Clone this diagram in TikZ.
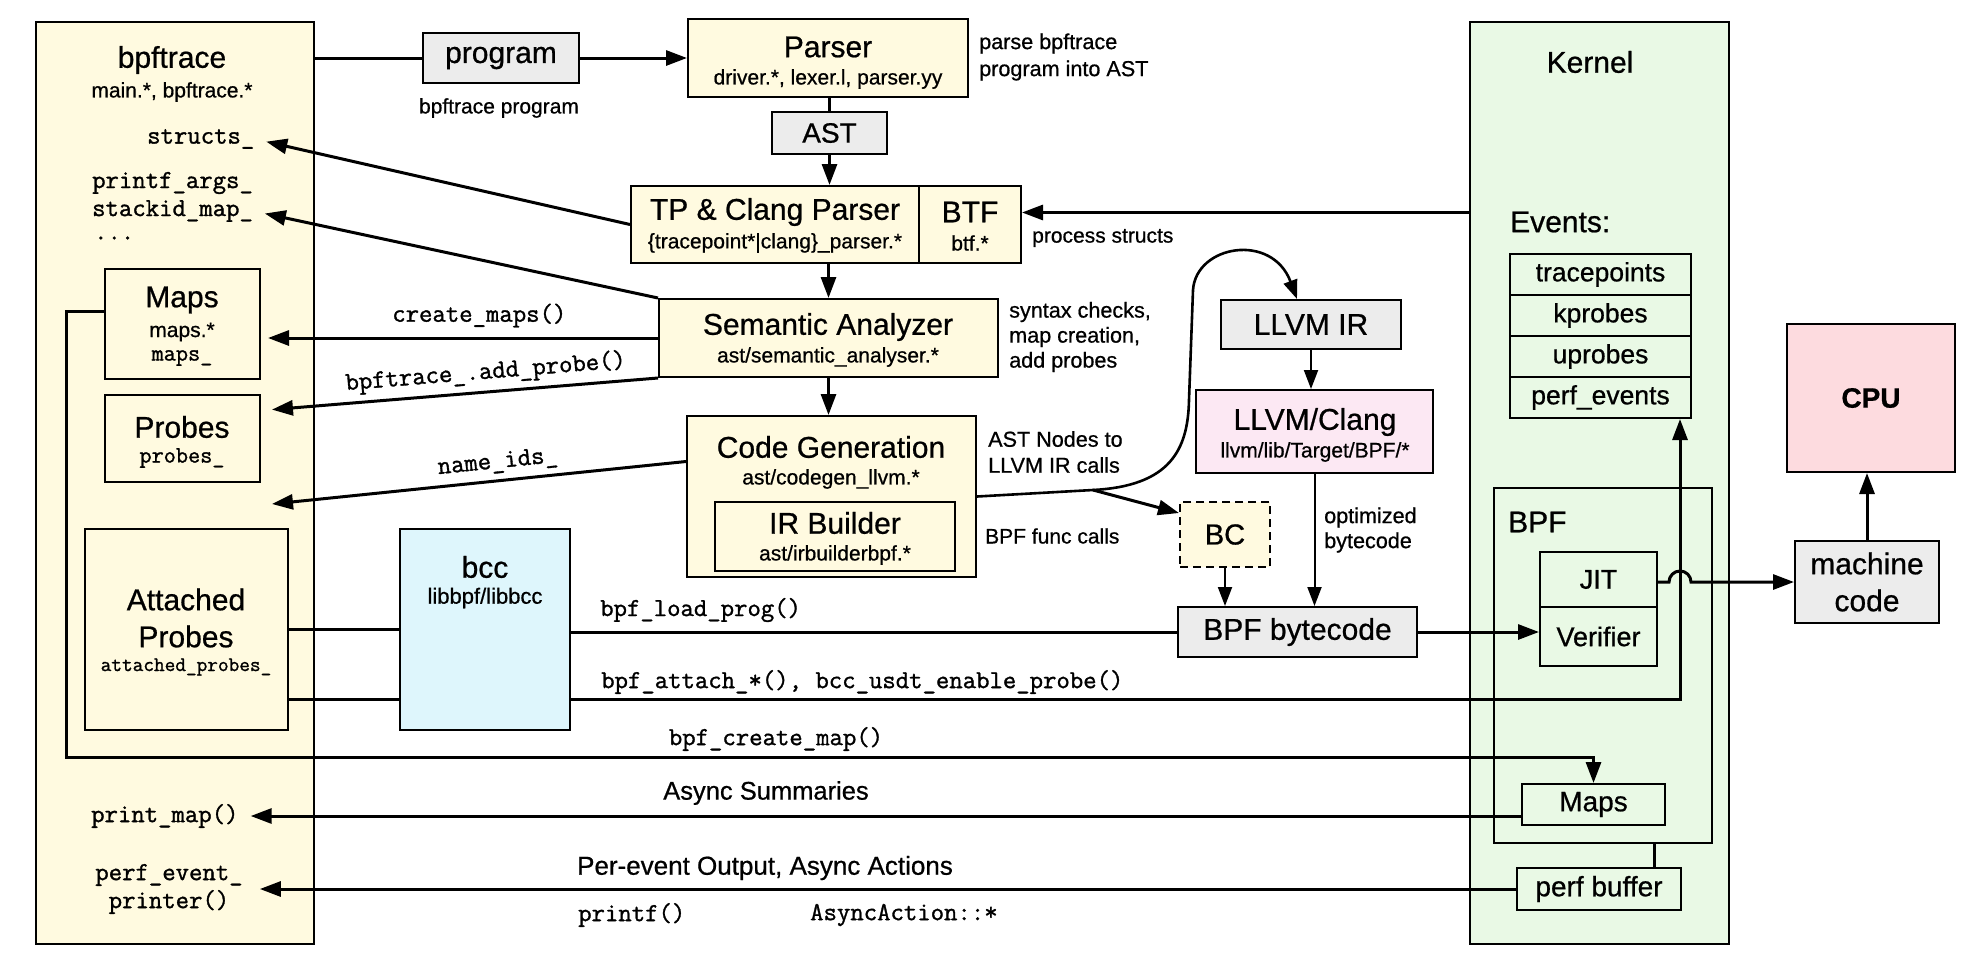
\documentclass[tikz,border=0pt]{standalone}
\usepackage{fontspec}
\setmainfont{Liberation Sans}[FakeBold=0.7]
\setmonofont{Latin Modern Mono}[FakeBold=1.2]
\usepackage{tikz}
\usetikzlibrary{positioning, calc}
\usetikzlibrary{arrows.meta}
\usetikzlibrary{shapes,arrows}

\definecolor{yel}{RGB}{255,250,224}
\definecolor{gry}{RGB}{236,236,236}
\definecolor{cyn}{RGB}{222,246,252}
\definecolor{grn}{RGB}{233,249,229}
\definecolor{pnk}{RGB}{252,232,243}
\definecolor{cpuc}{RGB}{253,219,223}

\newcommand{\TitleFont}{\fontsize{30}{37}\selectfont}
\newcommand{\SubFont}{\fontsize{21}{26}\selectfont}
\newcommand{\LblFont}{\fontsize{26}{30}\selectfont}
\newcommand{\CodeFont}{\fontsize{26}{28}\selectfont\ttfamily}
\newcommand{\SmCodeFont}{\fontsize{23.6}{28}\selectfont\ttfamily}

\begin{document}
\begin{tikzpicture}[x=1pt, y=-1pt]
	\tikzstyle{box-node}=[draw=black, line width=2pt, inner sep=0pt, align=center]
	\tikzstyle{title-text}=[inner sep=0pt, font=\TitleFont, align=center]
	\tikzstyle{sub-text}=[inner sep=0pt, font=\SubFont, align=center]
	\tikzstyle{note-text}=[inner sep=0pt, font=\SubFont, align=left, anchor=west]
	\tikzstyle{code-text}=[inner sep=0pt, font=\CodeFont, align=center]
	\tikzstyle{main-arrow}=[line width=3pt, -{Triangle[length=21pt,width=15pt]}]
	\tikzstyle{thin-arrow}=[line width=2pt, -{Triangle[length=19pt,width=14pt]}]
	\tikzstyle{plain-line}=[line width=3pt]
	\useasboundingbox (0,0) rectangle (1968,956);

	% bpftrace side
	\node[box-node, fill=yel, minimum width=278pt, minimum height=922pt] (bpft) at (175,483) {};
	\node[title-text] (bpft-title) at (172,60) {bpftrace};
	\node[sub-text] (bpft-sub) at (172,92) {main.*, bpftrace.*};
	\node[code-text, anchor=west] (structs) at (147,139) {structs\_};
	\node[code-text, anchor=west] (pargs) at (92,183) {printf\_args\_};
	\node[code-text, anchor=west] (stackid) at (92,211) {stackid\_map\_};
	\node[code-text, anchor=west] (dots) at (94,238) {...};

	\node[box-node, fill=yel, minimum width=155pt, minimum height=110pt] (maps) at (182.5,324) {};
	\node[title-text] (maps-title) at (182,300) {Maps};
	\node[sub-text] (maps-sub) at (182,332) {maps.*};
	\node[code-text, font=\SmCodeFont] (maps-var) at (182,358) {maps\_};
	\node[box-node, fill=yel, minimum width=155pt, minimum height=87pt] (probes) at (182.5,438.5) {};
	\node[title-text] (probes-title) at (182,427) {Probes};
	\node[code-text, font=\SmCodeFont] (probes-var) at (182,458) {probes\_};
	\node[box-node, fill=yel, minimum width=203pt, minimum height=201pt] (att) at (186.5,629.5) {};
	\node[title-text] (att-title) at (186,618) {Attached\\Probes};
	\node[code-text, font=\fontsize{20.7}{24}\selectfont\ttfamily] (att-var) at (186,667) {attached\_probes\_};
	\node[code-text, anchor=west] (pmap) at (91,816) {print\_map()};
	\node[code-text] (pevt) at (169,889) {perf\_event\_\\printer()};

	% bcc
	\node[box-node, fill=cyn, minimum width=170pt, minimum height=201pt] (bcc) at (485,629.5) {};
	\node[title-text] (bcc-title) at (485,567) {bcc};
	\node[sub-text, font=\fontsize{22}{26}\selectfont] (bcc-sub) at (485,598) {libbpf/libbcc};

	% compiler chain
	\node[box-node, fill=gry, minimum width=156pt, minimum height=50pt, font=\TitleFont] (prog) at (501,58) {program};
	\node[sub-text] (prog-sub) at (499,108) {bpftrace program};
	\node[box-node, fill=yel, minimum width=280pt, minimum height=78pt] (parser) at (828,58) {};
	\node[title-text] (parser-title) at (828,47) {Parser};
	\node[sub-text] (parser-sub) at (828,79) {driver.*, lexer.l, parser.yy};
	\node[note-text, font=\fontsize{21.6}{27}\selectfont] (parser-note) at (979,57) {parse bpftrace\\program into AST};
	\node[box-node, fill=gry, minimum width=115pt, minimum height=42pt, font=\fontsize{28}{32}\selectfont] (ast) at (829.5,133) {AST};
	\node[box-node, fill=yel, minimum width=288pt, minimum height=77pt] (tp) at (775,224.5) {};
	\node[title-text] (tp-title) at (775,212) {TP \& Clang Parser};
	\node[sub-text] (tp-sub) at (775,243) {\{tracepoint*|clang\}\_parser.*};
	\node[box-node, fill=yel, minimum width=102pt, minimum height=77pt] (btf) at (970,224.5) {};
	\node[title-text] (btf-title) at (970,212) {BTF};
	\node[sub-text] (btf-sub) at (970,243) {btf.*};
	\node[note-text] (btf-note) at (1032,238) {process structs};
	\node[box-node, fill=yel, minimum width=339pt, minimum height=78pt] (sem) at (828.5,338) {};
	\node[title-text] (sem-title) at (828,327) {Semantic Analyzer};
	\node[sub-text] (sem-sub) at (828,357) {ast/semantic\_analyser.*};
	\node[note-text, font=\fontsize{21.6}{25}\selectfont] (sem-note) at (1009,337) {syntax checks,\\map creation,\\add probes};
	\node[box-node, fill=yel, minimum width=289pt, minimum height=161pt] (cg) at (831.5,496.5) {};
	\node[title-text] (cg-title) at (831,447) {Code Generation};
	\node[sub-text] (cg-sub) at (831,479) {ast/codegen\_llvm.*};
	\node[box-node, fill=yel, minimum width=240pt, minimum height=69pt] (irb) at (835,536.5) {};
	\node[title-text] (irb-title) at (835,523) {IR Builder};
	\node[sub-text] (irb-sub) at (835,555) {ast/irbuilderbpf.*};
	\node[note-text, font=\fontsize{21.6}{26}\selectfont] (cg-note) at (988,452) {AST Nodes to\\LLVM IR calls};
	\node[note-text] (irb-note) at (985,536) {BPF func calls};

	% LLVM
	\node[box-node, fill=gry, minimum width=180pt, minimum height=49pt, font=\TitleFont] (llir) at (1311,324.5) {LLVM IR};
	\node[box-node, fill=pnk, minimum width=237pt, minimum height=83pt] (llvm) at (1314.5,431.5) {};
	\node[title-text] (llvm-title) at (1315,422) {LLVM/Clang};
	\node[sub-text] (llvm-sub) at (1315,452) {llvm/lib/Target/BPF/*};
	\node[box-node, fill=yel, dash pattern=on 8pt off 5pt, minimum width=90pt, minimum height=65pt, font=\fontsize{29}{32}\selectfont] (bc) at (1225,534.5) {BC};
	\node[note-text, font=\fontsize{21.6}{25}\selectfont] (opt-note) at (1324,530) {optimized\\bytecode};
	\node[box-node, fill=gry, minimum width=239pt, minimum height=50pt, font=\TitleFont] (bpfbc) at (1297.5,632) {BPF bytecode};

	% kernel
	\node[box-node, fill=grn, minimum width=259pt, minimum height=922pt] (kern) at (1599.5,483) {};
	\node[title-text] (kern-title) at (1590,62) {Kernel};
	\node[title-text, anchor=west] (ev-title) at (1510,222) {Events:};
	\node[box-node, fill=grn, minimum width=181pt, minimum height=41pt, font=\fontsize{26.5}{30}\selectfont] (ev1) at (1600.5,274.5) {tracepoints};
	\node[box-node, fill=grn, minimum width=181pt, minimum height=41pt, font=\fontsize{26.5}{30}\selectfont] (ev2) at (1600.5,315.5) {kprobes};
	\node[box-node, fill=grn, minimum width=181pt, minimum height=41pt, font=\fontsize{26.5}{30}\selectfont] (ev3) at (1600.5,356.5) {uprobes};
	\node[box-node, fill=grn, minimum width=181pt, minimum height=41pt, font=\fontsize{26.5}{30}\selectfont] (ev4) at (1600.5,397.5) {perf\_events};
	\node[box-node, fill=grn, minimum width=218pt, minimum height=355pt] (bpfk) at (1603,665.5) {};
	\node[title-text, anchor=west] (bpfk-title) at (1508,522) {BPF};
	\node[box-node, fill=grn, minimum width=117pt, minimum height=55pt, font=\fontsize{27}{30}\selectfont] (jit) at (1598.5,579.5) {JIT};
	\node[box-node, fill=grn, minimum width=117pt, minimum height=59pt, font=\fontsize{27}{30}\selectfont] (ver) at (1598.5,636.5) {Verifier};
	\node[box-node, fill=grn, minimum width=143pt, minimum height=41pt, font=\fontsize{28}{30}\selectfont] (kmaps) at (1593.5,804.5) {Maps};
	\node[box-node, fill=grn, minimum width=164pt, minimum height=42pt, font=\fontsize{28}{30}\selectfont] (pbuf) at (1599,889) {perf buffer};

	% hardware
	\node[box-node, fill=cpuc, minimum width=168pt, minimum height=148pt, font=\fontsize{28}{30}\selectfont\bfseries] (cpu) at (1871,398) {CPU};
	\node[box-node, fill=gry, minimum width=144pt, minimum height=82pt, font=\TitleFont] (mc) at (1867,582) {machine\\code};

	% program flow
	\draw[plain-line] (bpft.east |- prog.west) -- (prog.west);
	\draw[main-arrow] (prog.east) -- (parser.west);
	\draw[plain-line] (ast.north |- parser.south) -- (ast.north);
	\draw[main-arrow] (ast.south) -- (ast.south |- tp.north);
	\draw[main-arrow] (tp.south -| sem.north) -- (sem.north);
	\draw[main-arrow] (sem.south) -- (sem.south |- cg.north);
	\draw[main-arrow] ($(kern.west |- btf.east)+(0,-12)$) -- ($(btf.east)+(0,-12)$);

	% back into bpftrace
	\draw[main-arrow, shorten >=12pt] (tp.west) -- (structs.east);
	\draw[main-arrow, shorten >=12pt] (sem.north west) -- (stackid.east);
	\draw[main-arrow, shorten >=7pt] (sem.west) -- (maps.east |- sem.west)
		node[code-text, above=9pt, pos=0.45] {create\_maps()};
	\draw[main-arrow, shorten >=11pt] (sem.south west) -- ($(probes.east)+(0,-28)$)
		node[code-text, sloped, above=6pt, pos=0.43] {bpftrace\_.add\_probe()};
	\coordinate (nameend) at (272,504);
	\draw[main-arrow] ($(cg.west)+(0,-35)$) -- (nameend)
		node[code-text, sloped, above=6pt, pos=0.45] {name\_ids\_};

	% codegen to llvm
	\coordinate (split) at (1093,490);
	\draw[line width=2.6pt, -{Triangle[length=19pt,width=14pt]}] (cg.east) -- (split)
		.. controls (1170,486) and (1188,450) .. (1189,400) -- (1193,290)
		.. controls (1196,245) and (1272,232) .. ($(llir.north)+(-14,0)$);
	\draw[main-arrow] (split) -- ($(bc.north west)+(0,12)$);
	\draw[thin-arrow] (llir.south) -- (llir.south |- llvm.north);
	\draw[thin-arrow] (llvm.south) -- (llvm.south |- bpfbc.north);
	\draw[thin-arrow] (bc.south) -- (bc.south |- bpfbc.north);

	% loading and attaching
	\draw[plain-line] (att.east) -- (bcc.west);
	\draw[plain-line] (bcc.east |- bpfbc.west) -- (bpfbc.west);
	\node[code-text, anchor=west] (load-lbl) at (600,610) {bpf\_load\_prog()};
	\draw[main-arrow] (bpfbc.east) -- (ver.west |- bpfbc.east);
	\draw[plain-line] ($(att.east)+(0,70)$) -- ($(bcc.west)+(0,70)$);
	\draw[main-arrow] ($(bcc.east)+(0,70)$) -| ($(ev4.south east)+(-12,0)$);
	\node[code-text, anchor=west] (attach-lbl) at (601,682) {bpf\_attach\_*(), bcc\_usdt\_enable\_probe()};
	\draw[main-arrow] ($(maps.west)+(0,-13)$) -- ++(-38,0) -- ++(0,446) -| (kmaps.north);
	\node[code-text] (cmap-lbl) at (776,739) {bpf\_create\_map()};

	% output
	\draw[main-arrow, shorten >=12pt] (kmaps.west |- pmap.east) -- (pmap.east);
	\node[inner sep=0pt, font=\fontsize{25.5}{30}\selectfont] (async-lbl) at (766,793) {Async Summaries};
	\draw[main-arrow, shorten >=17pt] (pbuf.west) -- (pevt.east |- pbuf.west);
	\node[inner sep=0pt, font=\LblFont] (perev-lbl) at (765,868) {Per-event Output, Async Actions};
	\node[code-text, anchor=west] (printf-lbl) at (578,915) {printf()};
	\node[code-text, anchor=west] (action-lbl) at (810,915) {AsyncAction::*};
	\draw[plain-line] ($(bpfk.south)+(51,0)$) -- ($(pbuf.north)+(55,0)$);

	% jit to cpu
	\draw[main-arrow] (jit.east |- mc.west) -- ++(11,0) arc[start angle=180, end angle=0, radius=11pt] -- (mc.west);
	\draw[main-arrow] (mc.north) -- (mc.north |- cpu.south);
\end{tikzpicture}
\end{document}
